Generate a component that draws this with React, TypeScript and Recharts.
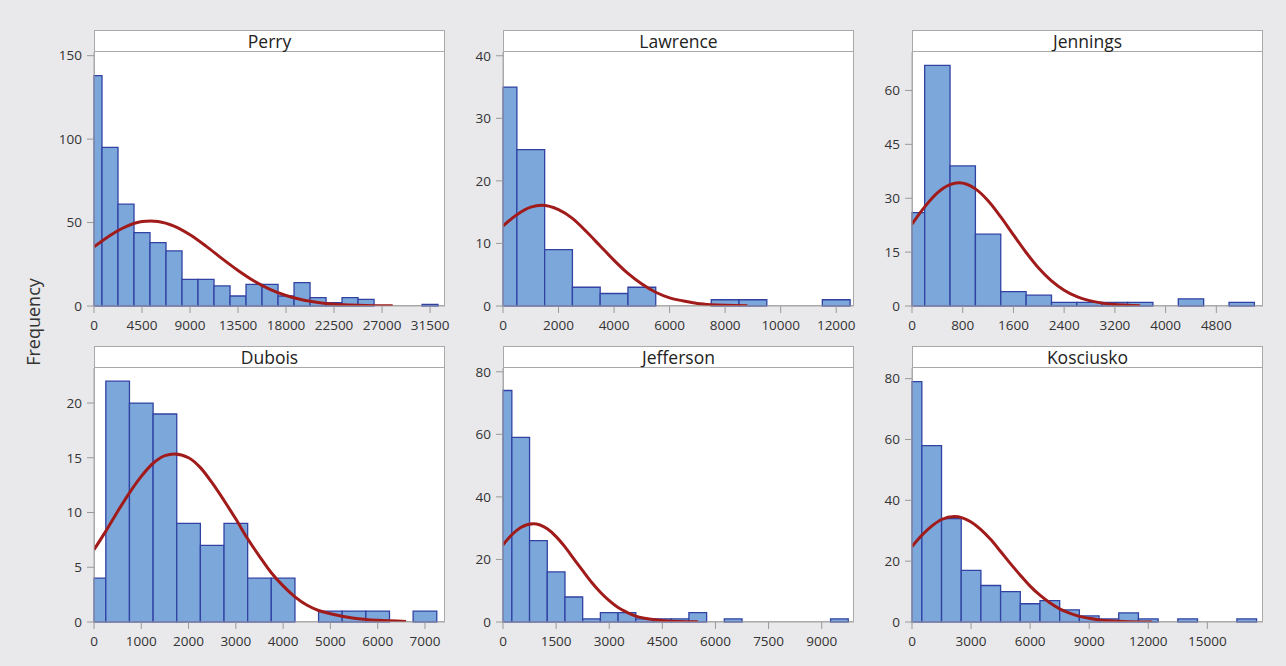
import React from 'react';
import { ComposedChart, XAxis, YAxis, Line, ReferenceArea } from 'recharts';

// ---------- Perry ----------
const perryBinWidth = 1500;
const perryCounts = [138, 95, 61, 44, 38, 33, 16, 16, 12, 6, 13, 13, 6, 14, 5, 2, 5, 4, 0, 0, 0, 1];
const perryCurveX = [0, 1500, 3000, 4500, 5300, 6000, 7500, 9000, 10500, 12000, 13500, 15000, 16500, 18000, 19500, 21000, 22500, 24000, 25500, 27000, 28000];
const perryCurveY = [35.4, 42.3, 47.6, 50.6, 51.0, 50.7, 47.9, 42.7, 35.9, 28.4, 21.3, 15.0, 10.0, 6.3, 3.7, 2.1, 1.1, 0.6, 0.3, 0.15, 0.1];
const perryXTicks = [0, 4500, 9000, 13500, 18000, 22500, 27000, 31500];
const perryYTicks = [0, 50, 100, 150];

// ---------- Lawrence ----------
const lawrenceBinWidth = 1000;
const lawrenceCounts = [35, 25, 9, 3, 2, 3, 0, 0, 1, 1, 0, 0, 1];
const lawrenceCurveX = [0, 500, 1000, 1400, 2000, 2500, 3000, 3500, 4000, 4500, 5000, 5500, 6000, 6500, 7000, 7500, 8000, 8800];
const lawrenceCurveY = [12.8, 14.6, 15.8, 16.1, 15.4, 14.0, 11.9, 9.6, 7.3, 5.2, 3.5, 2.2, 1.3, 0.8, 0.4, 0.2, 0.1, 0.05];
const lawrenceXTicks = [0, 2000, 4000, 6000, 8000, 10000, 12000];
const lawrenceYTicks = [0, 10, 20, 30, 40];

// ---------- Jennings ----------
const jenningsBinWidth = 400;
const jenningsCounts = [26, 67, 39, 20, 4, 3, 1, 1, 1, 1, 0, 2, 0, 1];
const jenningsCurveX = [0, 200, 400, 600, 740, 1000, 1200, 1400, 1600, 1800, 2000, 2200, 2400, 2600, 2800, 3000, 3200, 3400, 3600];
const jenningsCurveY = [22.8, 27.6, 31.5, 33.8, 34.3, 32.6, 29.3, 24.8, 19.8, 14.9, 10.5, 7.0, 4.4, 2.6, 1.5, 0.8, 0.4, 0.2, 0.1];
const jenningsXTicks = [0, 800, 1600, 2400, 3200, 4000, 4800];
const jenningsYTicks = [0, 15, 30, 45, 60];

// ---------- Dubois ----------
const duboisBinWidth = 500;
const duboisCounts = [4, 22, 20, 19, 9, 7, 9, 4, 4, 0, 1, 1, 1, 0, 1];
const duboisCurveX = [0, 250, 500, 750, 1000, 1250, 1500, 1700, 2000, 2250, 2500, 2750, 3000, 3250, 3500, 3750, 4000, 4250, 4500, 4750, 5000, 5500, 6000, 6600];
const duboisCurveY = [6.6, 8.3, 10.1, 11.8, 13.3, 14.5, 15.2, 15.35, 15.0, 14.1, 12.7, 11.1, 9.4, 7.6, 6.0, 4.5, 3.3, 2.3, 1.55, 1.05, 0.75, 0.35, 0.15, 0.05];
const duboisXTicks = [0, 1000, 2000, 3000, 4000, 5000, 6000, 7000];
const duboisYTicks = [0, 5, 10, 15, 20];

// ---------- Jefferson ----------
const jeffersonBinWidth = 500;
const jeffersonCounts = [74, 59, 26, 16, 8, 1, 3, 3, 1, 1, 1, 3, 0, 1, 0, 0, 0, 0, 0, 1];
const jeffersonCurveX = [0, 250, 500, 850, 1250, 1500, 1750, 2000, 2250, 2500, 2750, 3000, 3250, 3500, 3750, 4000, 4500, 5000, 5500];
const jeffersonCurveY = [24.7, 27.9, 30.2, 31.4, 29.8, 27.3, 24.0, 20.2, 16.4, 12.7, 9.5, 6.8, 4.6, 3.1, 1.9, 1.2, 0.5, 0.15, 0.05];
const jeffersonXTicks = [0, 1500, 3000, 4500, 6000, 7500, 9000];
const jeffersonYTicks = [0, 20, 40, 60, 80];

// ---------- Kosciusko ----------
const kosciuskoBinWidth = 1000;
const kosciuskoCounts = [79, 58, 34, 17, 12, 10, 6, 7, 4, 2, 1, 3, 1, 0, 1, 0, 0, 1];
const kosciuskoCurveX = [0, 500, 1000, 1500, 2150, 3000, 3500, 4000, 4500, 5000, 5500, 6000, 6500, 7000, 7500, 8000, 8500, 9000, 9500, 10000, 11000, 12200];
const kosciuskoCurveY = [24.8, 28.5, 31.5, 33.7, 34.7, 32.9, 30.4, 27.1, 23.2, 19.2, 15.4, 11.8, 8.8, 6.3, 4.3, 2.9, 1.85, 1.2, 0.7, 0.4, 0.12, 0.03];
const kosciuskoXTicks = [0, 3000, 6000, 9000, 12000, 15000];
const kosciuskoYTicks = [0, 20, 40, 60, 80];

const FONT = '"Open Sans", "DejaVu Sans", sans-serif';
const BAR_FILL = '#7ba7da';
const BAR_STROKE = '#3142a3';
const CURVE = '#a11b1b';
const FRAME = '#a9a9a9';
const TEXT = '#333333';

const PLOT_H = 254;
const HEADER_H = 22;
const YAXIS_W = 60;
const XAXIS_H = 36;
const RIGHT_PAD = 24;

type PanelProps = {
  title: string;
  plotLeft: number;
  headerTop: number;
  plotWidth: number;
  xMax: number;
  xTicks: number[];
  yMax: number;
  yTicks: number[];
  binWidth: number;
  counts: number[];
  curveX: number[];
  curveY: number[];
};

function Panel(p: PanelProps) {
  const chartW = p.plotWidth + YAXIS_W + RIGHT_PAD;
  const chartH = HEADER_H + PLOT_H + XAXIS_H;
  const curve = p.curveX.map((x, i) => ({ x, y: p.curveY[i] }));
  return (
    <div style={{ position: 'absolute', left: p.plotLeft - YAXIS_W, top: p.headerTop, width: chartW, height: chartH }}>
      <div
        style={{
          position: 'absolute',
          left: YAXIS_W,
          top: 0,
          width: p.plotWidth,
          height: HEADER_H + PLOT_H,
          background: '#ffffff',
          border: `1px solid ${FRAME}`,
          boxSizing: 'border-box',
        }}
      />
      <div
        style={{
          position: 'absolute',
          left: YAXIS_W,
          top: 0,
          width: p.plotWidth,
          height: HEADER_H,
          borderBottom: `1px solid ${FRAME}`,
          boxSizing: 'border-box',
          textAlign: 'center',
          fontFamily: FONT,
          fontSize: 17.5,
          lineHeight: `${HEADER_H}px`,
          color: '#222',
        }}
      >
        {p.title}
      </div>
      <div style={{ position: 'absolute', left: 0, top: 0 }}>
        <ComposedChart
          width={chartW}
          height={chartH}
          data={curve}
          margin={{ top: HEADER_H, right: RIGHT_PAD, bottom: 0, left: 0 }}
        >
          <XAxis
            type="number"
            dataKey="x"
            domain={[0, p.xMax]}
            ticks={p.xTicks}
            allowDataOverflow
            height={XAXIS_H}
            tickSize={7}
            tickMargin={7}
            axisLine={{ stroke: FRAME }}
            tickLine={{ stroke: '#999' }}
            tick={{ fill: TEXT, fontSize: 13.5, fontFamily: FONT }}
            interval={0}
          />
          <YAxis
            type="number"
            domain={[0, p.yMax]}
            ticks={p.yTicks}
            allowDataOverflow
            width={YAXIS_W}
            tickSize={7}
            tickMargin={5}
            axisLine={{ stroke: FRAME }}
            tickLine={{ stroke: '#999' }}
            tick={{ fill: TEXT, fontSize: 13.5, fontFamily: FONT }}
            interval={0}
          />
          {p.counts.map((c, i) => (
            <ReferenceArea
              key={i}
              x1={Math.max(0, (i - 0.5) * p.binWidth)}
              x2={(i + 0.5) * p.binWidth}
              y1={0}
              y2={c}
              fill={BAR_FILL}
              fillOpacity={1}
              stroke={BAR_STROKE}
              strokeWidth={1.3}
              ifOverflow="visible"
            />
          ))}
          <Line
            type="monotone"
            dataKey="y"
            stroke={CURVE}
            strokeWidth={3}
            dot={false}
            activeDot={false}
            isAnimationActive={false}
          />
        </ComposedChart>
      </div>
    </div>
  );
}

export default function App() {
  return (
    <div style={{ position: 'absolute', left: 0, top: 0, width: 1286, height: 666, background: '#e9e9eb', overflow: 'hidden' }}>
      <div
        style={{
          position: 'absolute',
          left: 33,
          top: 322,
          transform: 'translate(-50%, -50%) rotate(-90deg)',
          fontFamily: FONT,
          fontSize: 18,
          color: TEXT,
          whiteSpace: 'nowrap',
        }}
      >
        Frequency
      </div>
      <Panel title="Perry" plotLeft={94} headerTop={30} plotWidth={351} xMax={32900} xTicks={perryXTicks} yMax={152.2} yTicks={perryYTicks} binWidth={perryBinWidth} counts={perryCounts} curveX={perryCurveX} curveY={perryCurveY} />
      <Panel title="Lawrence" plotLeft={503} headerTop={30} plotWidth={351} xMax={12640} xTicks={lawrenceXTicks} yMax={40.6} yTicks={lawrenceYTicks} binWidth={lawrenceBinWidth} counts={lawrenceCounts} curveX={lawrenceCurveX} curveY={lawrenceCurveY} />
      <Panel title="Jennings" plotLeft={912} headerTop={30} plotWidth={351} xMax={5536} xTicks={jenningsXTicks} yMax={70.7} yTicks={jenningsYTicks} binWidth={jenningsBinWidth} counts={jenningsCounts} curveX={jenningsCurveX} curveY={jenningsCurveY} />
      <Panel title="Dubois" plotLeft={94} headerTop={346} plotWidth={351} xMax={7424} xTicks={duboisXTicks} yMax={23.2} yTicks={duboisYTicks} binWidth={duboisBinWidth} counts={duboisCounts} curveX={duboisCurveX} curveY={duboisCurveY} />
      <Panel title="Jefferson" plotLeft={503} headerTop={346} plotWidth={351} xMax={9912} xTicks={jeffersonXTicks} yMax={81.2} yTicks={jeffersonYTicks} binWidth={jeffersonBinWidth} counts={jeffersonCounts} curveX={jeffersonCurveX} curveY={jeffersonCurveY} />
      <Panel title="Kosciusko" plotLeft={912} headerTop={346} plotWidth={351} xMax={17827} xTicks={kosciuskoXTicks} yMax={83.5} yTicks={kosciuskoYTicks} binWidth={kosciuskoBinWidth} counts={kosciuskoCounts} curveX={kosciuskoCurveX} curveY={kosciuskoCurveY} />
    </div>
  );
}
